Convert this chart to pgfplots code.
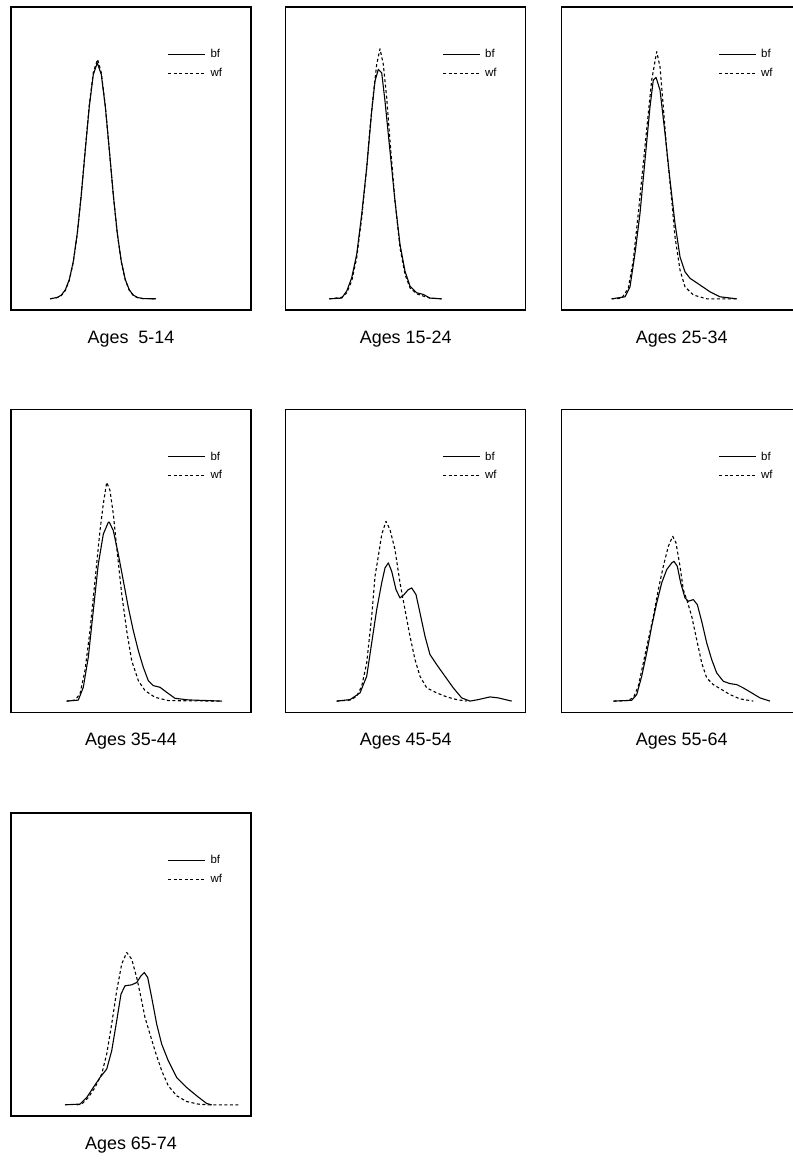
\documentclass[border=0pt]{standalone}
\usepackage{fontspec}
\setmainfont{Liberation Sans}
\usepackage{pgfplots}
\pgfplotsset{compat=1.18}
\begin{document}
\begin{tikzpicture}
\useasboundingbox (0bp,0bp) rectangle (793bp,-1167bp);
\pgfplotsset{
 panel/.style={
  width=240bp, height=303bp, scale only axis, anchor=north west,
  xmin=0, xmax=240, ymin=-11.2, ymax=291.8,
  xtick=\empty, ytick=\empty,
  axis line style={line width=1.1bp},
  xlabel style={at={(axis description cs:0.5,0)}, anchor=base, yshift=-33bp, font=\fontsize{18}{20}\selectfont},
  legend style={draw=none, fill=none, at={(axis description cs:0.653,0.865)}, anchor=north west, font=\fontsize{11.5}{13}\selectfont, row sep=6bp, inner sep=0pt, nodes={inner sep=1.5bp}, column sep=3bp},
  legend cell align=left,
  legend image code/.code={\draw[##1] (0bp,0bp) -- (37bp,0bp);},
 },
 bfline/.style={black, line width=1.1bp, line join=round},
 wfline/.style={black, line width=1.1bp, line join=round, dash pattern=on 3bp off 2.5bp},
}
% ---- Ages 5-14
\begin{axis}[panel, at={(11bp,-7bp)}, xlabel={Ages\ \ 5-14}]
\addplot[bfline] coordinates {(39.3,0) (46.3,1.4) (50.3,3.7) (54.3,8.9) (58.3,19.2) (62.3,37.4) (66.3,65.6) (70.3,104) (74.3,148.9) (78.3,192.3) (82.3,224.2) (86.3,236) (90.3,224.2) (94.3,192.3) (98.3,148.9) (102.3,104) (106.3,65.6) (110.3,37.4) (114.3,19.2) (118.3,8.9) (122.3,3.7) (126.3,1.4) (132,0.2) (145,0)};
\addplot[wfline] coordinates {(39.3,0) (46.3,1.2) (50.3,3.2) (54.3,8.3) (58.3,18.5) (62.3,36.5) (66.3,65) (70.3,104.5) (74.3,150) (78.3,194) (82.3,226.5) (86.6,239.5) (90.3,226) (94.3,193) (98.3,149) (102.3,103.5) (106.3,65) (110.3,36.8) (114.3,18.8) (118.3,8.5) (122.3,3.4) (126.3,1.2) (132,0.2) (145,0)};
\legend{bf,wf}
\end{axis}
% ---- Ages 15-24
\begin{axis}[panel, at={(285.7bp,-7bp)}, xlabel={Ages 15-24}]
\addplot[bfline] coordinates {(43.6,0) (56,0.7) (61,7.7) (66,21) (71,44.4) (76,84.4) (81,131) (86,187.7) (89.3,217.7) (92.6,229.4) (96,226) (99.3,197.7) (104.3,147.7) (109.3,97.7) (114.3,54.4) (119.3,27.7) (124.3,12.7) (131,6) (137.6,4.4) (144.3,0.7) (156,0)};
\addplot[wfline] coordinates {(43.6,0) (56,1.4) (61,6) (66,17.7) (71,41) (76,81) (81,131) (84.3,171) (87.6,204.4) (91,234.4) (94.3,250) (97.6,234.4) (101,201) (104.3,157.7) (109.3,97.7) (114.3,51) (119.3,24.4) (124.3,11) (131,5) (137.6,2.7) (144.3,0.7) (156,0)};
\legend{bf,wf}
\end{axis}
% ---- Ages 25-34
\begin{axis}[panel, at={(561.7bp,-7bp)}, xlabel={Ages 25-34}]
\addplot[bfline] coordinates {(50,0) (63.3,2) (68.3,12) (73.3,45.5) (78.3,85.5) (83.3,138.8) (88.3,192) (91.6,218.8) (94.3,221.5) (98.3,208.8) (103.3,165.5) (108.3,118.8) (113.3,75.5) (118.3,42) (123.3,27) (128.3,20.5) (138.3,13.8) (148.3,7) (158.3,2) (175,0)};
\addplot[wfline] coordinates {(50,0) (60,0.5) (66.6,10.5) (71.6,38.8) (76.6,85.5) (81.6,135.5) (86.6,185.5) (90,218.8) (95,247.1) (98.3,232) (101.6,192) (105,148.8) (110,98.8) (113.3,62) (118.3,28.8) (123.3,12) (131.6,3.8) (145,0) (175,0)};
\legend{bf,wf}
\end{axis}
% ---- Ages 35-44
\begin{axis}[panel, at={(11bp,-409.3bp)}, xlabel={Ages 35-44}]
\addplot[bfline] coordinates {(55.7,0) (67.3,1) (72.3,13.8) (77.3,43.8) (82.3,90.5) (87.3,137) (92.3,167) (97.3,178.8) (98.3,179) (102.3,170.5) (107.3,147) (112.3,120.5) (117.3,93.8) (122.3,70.5) (127.3,50.5) (132.3,33.8) (137.3,20.5) (142.3,15.5) (149,13.8) (155.7,8.8) (164,2.8) (177.3,1.2) (211,0)};
\addplot[wfline] coordinates {(55.7,0) (64,1) (69,7.2) (74,30.5) (79,70.5) (84,120.5) (89,170.5) (92.3,197.2) (95.7,218.8) (99,210.5) (102.3,187.2) (105.7,153.8) (110.7,107.2) (115.7,70.5) (120.7,40.5) (127.3,20.5) (134,10.5) (144,3.8) (157.3,0.5) (211,0)};
\legend{bf,wf}
\end{axis}
% ---- Ages 45-54
\begin{axis}[panel, at={(285.7bp,-409.3bp)}, xlabel={Ages 45-54}]
\addplot[bfline] coordinates {(51,0) (64.3,1.5) (74.3,8.2) (81,24.8) (86,58.2) (91,91.5) (96,118.2) (99.3,133.2) (102.6,138.2) (106,129.8) (110.3,111.5) (114.3,103.2) (118.3,106.5) (122.6,111.5) (126,113.2) (130.3,106.5) (134.3,88.2) (139.3,64.8) (144.3,46.5) (151,36.5) (159.3,24.8) (167.6,13.2) (176,3.2) (184.3,0) (192.6,1.5) (204.3,4.2) (212.6,3.2) (226,0)};
\addplot[wfline] coordinates {(51,0) (64.3,1) (71,4.8) (76,14.8) (81,38.2) (86,84.8) (89.3,124.8) (92.6,144.8) (96,166.5) (100.3,179.8) (104.3,171.5) (109.3,151.5) (114.3,118.2) (119.3,91.5) (124.3,64.8) (129.3,41.5) (134.3,24.8) (141,13.2) (151,8.2) (161,4.2) (171,1.5) (181,0)};
\legend{bf,wf}
\end{axis}
% ---- Ages 55-64
\begin{axis}[panel, at={(561.7bp,-409.3bp)}, xlabel={Ages 55-64}]
\addplot[bfline] coordinates {(51.6,0) (70,0.8) (75,6.5) (80,24.8) (85,48.2) (90,74.8) (95,98.2) (100,118.2) (105,131.5) (110,138.2) (112.3,139.8) (115.6,134.8) (119,118.2) (123.3,103.2) (126.6,99.8) (131.6,101.5) (135.6,96.5) (140,79.8) (145,58.2) (150,41.5) (155,28.2) (161.6,19.8) (168.3,17.5) (175,16.5) (181.6,13.2) (190,8.2) (198.3,3.2) (208.3,0)};
\addplot[wfline] coordinates {(51.6,0) (65,0.5) (71.6,3.2) (76.6,14.8) (81.6,38.2) (86.6,61.5) (91.6,84.8) (96.6,111.5) (101.6,134.8) (106.6,154.8) (111,164.8) (114.3,158.2) (118.3,134.8) (121.6,111.5) (125.6,99.8) (130,84.8) (135,61.5) (140,38.2) (145,23.2) (151.6,16.5) (160,11.5) (168.3,6.5) (178.3,2.2) (191.6,0)};
\legend{bf,wf}
\end{axis}
% ---- Ages 65-74
\begin{axis}[panel, at={(11bp,-813bp)}, xlabel={Ages 65-74}]
\addplot[bfline] coordinates {(54,0) (69,0.7) (75.7,7.3) (82.3,17.3) (89,27.3) (95.7,35.7) (100.7,54) (105.7,84) (110,110.7) (114,119) (120.7,120) (125.7,122.3) (130,129) (133.3,132.3) (136.7,127.3) (140.7,107.3) (145.7,80.7) (150.7,60.7) (157.3,44) (165.7,27.3) (175.7,17.3) (185.7,9) (195.7,1.3) (200.7,0)};
\addplot[wfline] coordinates {(66,0) (70.7,0.7) (77.3,7.3) (84,17.3) (90.7,30.7) (95.7,50.7) (100.7,80.7) (105.7,114) (110.7,140.7) (115.7,152.3) (120.7,145.7) (125.7,127.3) (130,107.3) (134,87.3) (139,70.7) (144,54) (150.7,34) (157.3,19) (165.7,9) (175.7,3.3) (187.3,0.7) (197.3,0) (228.3,0)};
\legend{bf,wf}
\end{axis}
\end{tikzpicture}
\end{document}
